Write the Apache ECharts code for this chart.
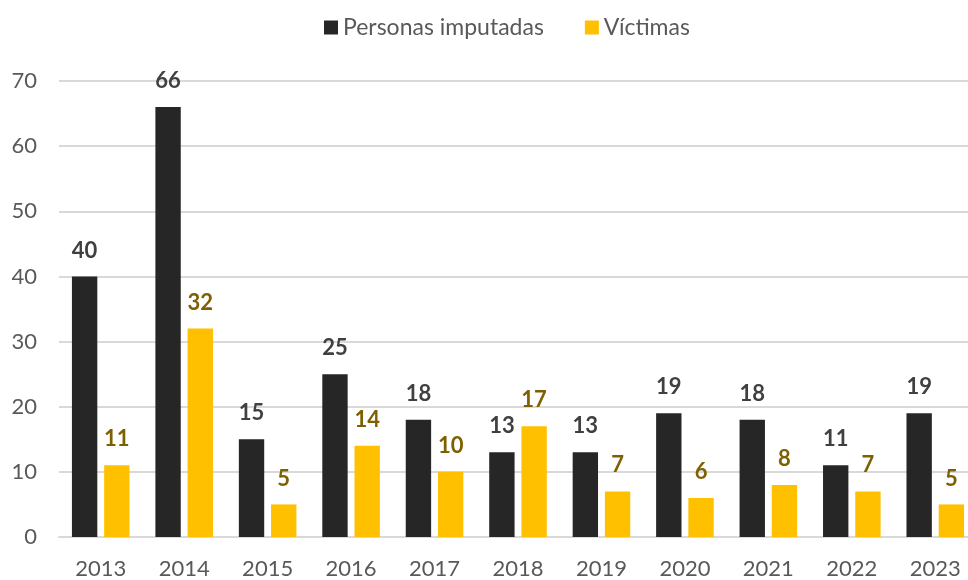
<!DOCTYPE html>
<html>
<head>
<meta charset="utf-8">
<script src="https://cdn.jsdelivr.net/npm/echarts@6/dist/echarts.min.js"></script>
<style>
  html, body { margin: 0; padding: 0; background: #fff; }
  #chart { width: 968px; height: 580px; }
</style>
</head>
<body>
<div id="chart"></div>
<script>
const years = ['2013', '2014', '2015', '2016', '2017', '2018', '2019', '2020', '2021', '2022', '2023'];
const imputadas = [40, 66, 15, 25, 18, 13, 13, 19, 18, 11, 19];
const victimas = [11, 32, 5, 14, 10, 17, 7, 6, 8, 7, 5];
const yTicks = [0, 10, 20, 30, 40, 50, 60, 70];

const chart = echarts.init(document.getElementById('chart'));
const font = 'Lato, "Open Sans", sans-serif';

const option = {
    animation: false,
    textStyle: { fontFamily: font },
    legend: {
        top: 11,
        left: 319,
        icon: 'rect',
        itemWidth: 14,
        itemHeight: 14,
        itemGap: 41,
        textStyle: { fontSize: 23, color: '#595959', fontFamily: font },
        data: ['Personas imputadas', 'Víctimas']
    },
    grid: {
        left: 59,
        width: 918,
        top: 81,
        bottom: 43,
        outerBoundsMode: 'none',
        containLabel: false
    },
    xAxis: {
        type: 'category',
        data: years,
        axisTick: { show: false },
        axisLine: { lineStyle: { color: '#d9d9d9', width: 2 } },
        axisLabel: { fontSize: 22, color: '#595959', margin: 21 }
    },
    yAxis: {
        type: 'value',
        min: yTicks[0],
        max: yTicks[yTicks.length - 1],
        interval: 10,
        axisLine: { show: false },
        axisTick: { show: false },
        splitLine: { lineStyle: { color: '#d9d9d9', width: 2 } },
        axisLabel: { fontSize: 22, color: '#595959', margin: 22 }
    },
    series: [
        {
            name: 'Personas imputadas',
            type: 'bar',
            data: imputadas,
            barGap: '27%',
            barCategoryGap: '31%',
            itemStyle: { color: '#262626' },
            label: {
                show: true,
                position: 'top',
                distance: 15,
                fontSize: 22,
                fontWeight: 'bold',
                color: '#404040'
            }
        },
        {
            name: 'Víctimas',
            type: 'bar',
            data: victimas,
            itemStyle: { color: '#FFC000' },
            label: {
                show: true,
                position: 'top',
                distance: 15,
                fontSize: 22,
                fontWeight: 'bold',
                color: '#7F6000'
            }
        }
    ]
};

chart.setOption(option);
</script>
</body>
</html>
